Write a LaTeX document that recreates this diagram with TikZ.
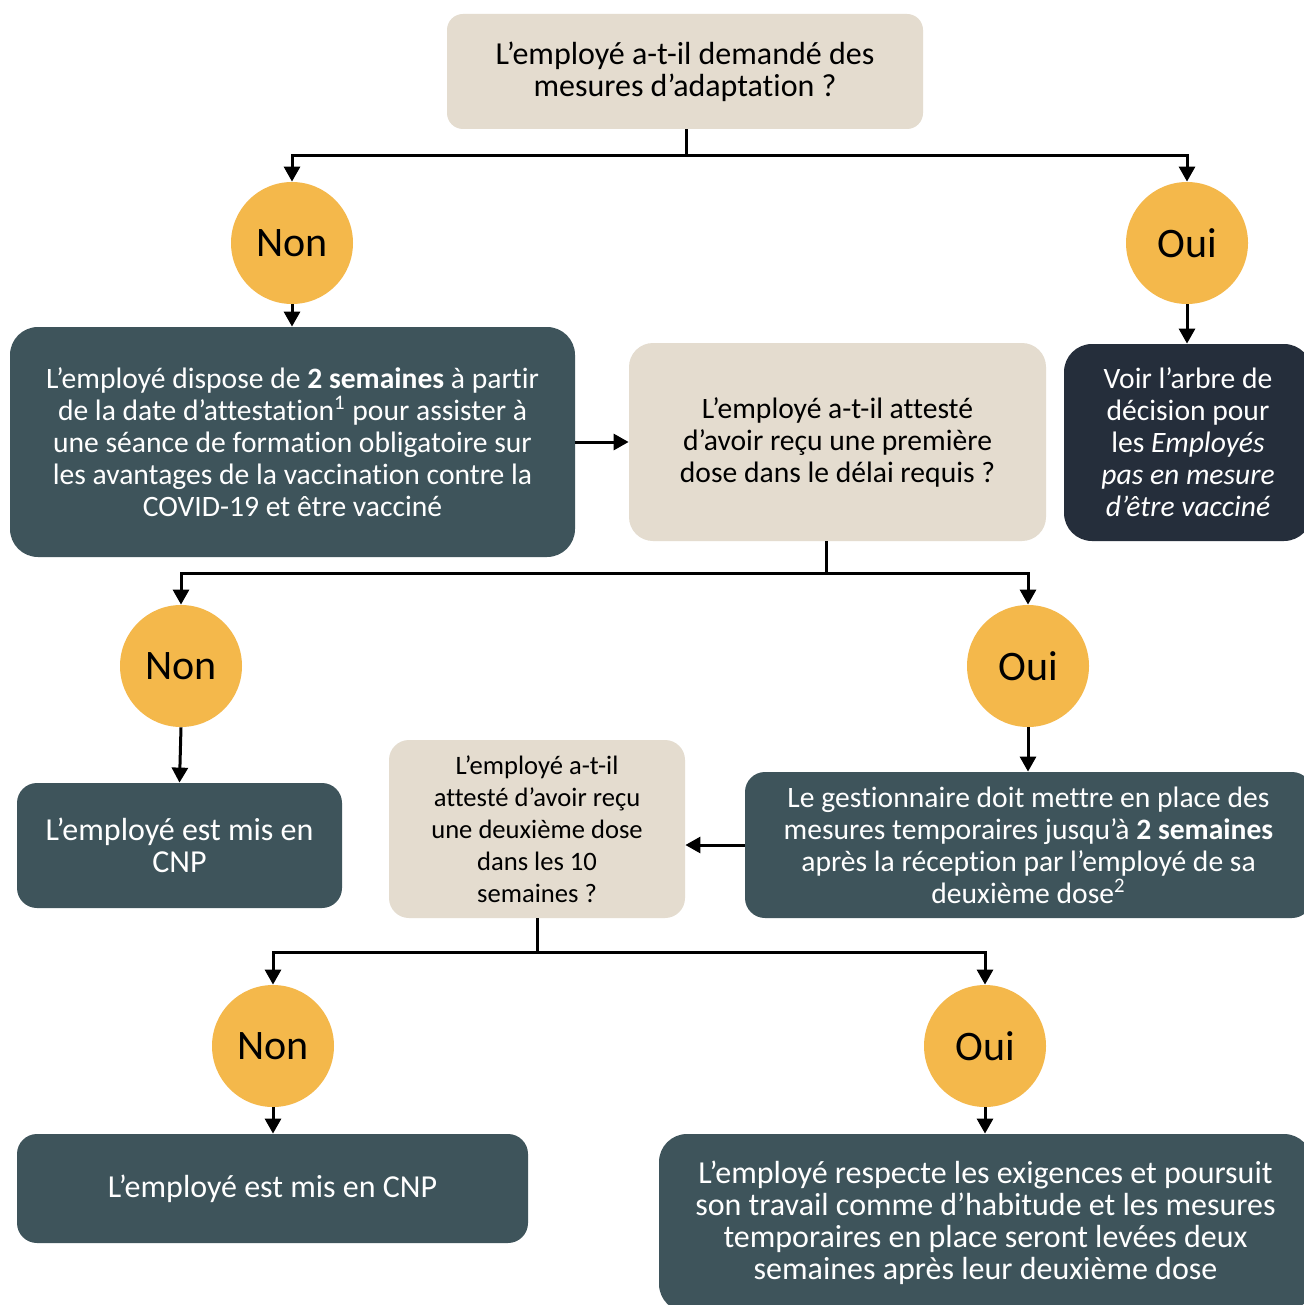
\documentclass[tikz,border=0pt]{standalone}
\usepackage{fontspec}
\setmainfont{Carlito}[Ligatures=NoCommon]
\usetikzlibrary{arrows.meta}
\definecolor{beige}{HTML}{E4DCCF}
\definecolor{teal}{HTML}{3E545B}
\definecolor{navy}{HTML}{252E3B}
\definecolor{orng}{HTML}{F4B84B}
\tikzset{
  base/.style={inner sep=0pt, align=center, font=\fontsize{16}{16}\selectfont},
  mid/.style={font=\fontsize{14.8}{16}\selectfont},
  qbox/.style={base, fill=beige, text=black, rounded corners=10pt},
  dbox/.style={base, fill=teal, text=white, rounded corners=14pt},
  nbox/.style={base, fill=navy, text=white, rounded corners=14pt},
  circ/.style={circle, fill=orng, minimum size=61pt, inner sep=0pt, font=\fontsize{21}{24}\selectfont},
  conn/.style={line width=1.5pt},
  arr/.style={line width=1.5pt, -{Triangle[width=8pt,length=7.5pt]}}
}
\begin{document}
\begin{tikzpicture}[x=0.5pt,y=-0.5pt]
\useasboundingbox (0,0) rectangle (1304,1305);
\clip (0,0) rectangle (1304,1305);
\fill[white] (0,0) rectangle (1304,1305);

\node[qbox, minimum width=238pt, minimum height=57.5pt, rounded corners=8pt] (top) at (685,71.5)
  {L’employé a-t-il demandé des\\mesures d’adaptation ?};

\node[circ] (n1) at (292,243) {Non};
\node[circ] (o1) at (1187,243) {Oui};

\node[dbox, mid, minimum width=282.5pt, minimum height=115pt] (d1) at (292.5,442)
  {L’employé dispose de \textbf{2 semaines} à partir\\de la date d’attestation\textsuperscript{1} pour assister à\\une séance de formation obligatoire sur\\les avantages de la vaccination contre la\\COVID-19 et être vacciné};

\node[qbox, mid, minimum width=208.5pt, minimum height=99pt, rounded corners=12pt] (q2) at (837.5,442)
  {L’employé a-t-il attesté\\d’avoir reçu une première\\dose dans le délai requis ?};

\node[nbox, mid, minimum width=124pt, minimum height=98.5pt] (nv) at (1188,442.5)
  {Voir l’arbre de\\décision pour\\les \textit{Employés}\\\textit{pas en mesure}\\\textit{d’être vacciné}};

\node[circ] (n2) at (181,666) {Non};
\node[circ] (o2) at (1028,666) {Oui};

\node[dbox, minimum width=162.5pt, minimum height=62.5pt, rounded corners=10pt] (cnp1) at (179.5,845.5)
  {L’employé est mis en\\CNP};

\node[qbox, minimum width=148pt, minimum height=89pt, font=\fontsize{13.3}{16}\selectfont] (q3) at (537,829)
  {L’employé a-t-il\\attesté d’avoir reçu\\une deuxième dose\\dans les 10\\semaines ?};

\node[dbox, mid, minimum width=283.5pt, minimum height=73pt, rounded corners=10pt] (gest) at (1028.5,845)
  {Le gestionnaire doit mettre en place des\\mesures temporaires jusqu’à \textbf{2 semaines}\\après la réception par l’employé de sa\\deuxième dose\textsuperscript{2}};

\node[circ] (n3) at (273,1046) {Non};
\node[circ] (o3) at (985,1046) {Oui};

\node[dbox, minimum width=255.5pt, minimum height=54.5pt, rounded corners=10pt] (cnp2) at (272.5,1188.5)
  {L’employé est mis en CNP};

\node[dbox, minimum width=326.5pt, minimum height=89pt] (fin) at (985.5,1223)
  {L’employé respecte les exigences et poursuit\\son travail comme d’habitude et les mesures\\temporaires en place seront levées deux\\semaines après leur deuxième dose};

% connectors
\coordinate (j1) at (686,156);
\draw[conn] (top.south -| j1) -- (j1);
\draw[arr] (j1) -| (n1.north);
\draw[arr] (j1) -| (o1.north);
\draw[arr] (n1.south) -- (n1.south |- d1.north);
\draw[arr] (o1.south) -- (o1.south |- nv.north);
\draw[arr] (d1.east) -- (q2.west);

\coordinate (j2) at (826,573);
\draw[conn] (q2.south -| j2) -- (j2);
\draw[arr] (j2) -| (n2.north);
\draw[arr] (j2) -| (o2.north);
\draw[arr] (n2.south) -- (cnp1.north);
\draw[arr] (o2.south) -- (o2.south |- gest.north);
\draw[arr] (gest.west) -- (gest.west -| q3.east);

\coordinate (j3) at (537,952);
\draw[conn] (q3.south -| j3) -- (j3);
\draw[arr] (j3) -| (n3.north);
\draw[arr] (j3) -| (o3.north);
\draw[arr] (n3.south) -- (n3.south |- cnp2.north);
\draw[arr] (o3.south) -- (o3.south |- fin.north);
\end{tikzpicture}
\end{document}
